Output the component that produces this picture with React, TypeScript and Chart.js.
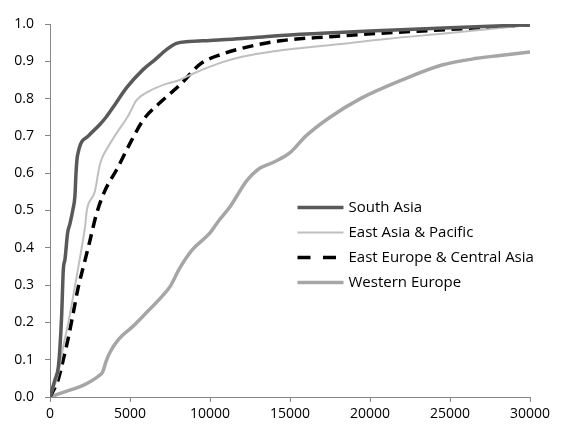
import React, { useEffect, useRef } from "react";
import { Chart, registerables } from "chart.js";

Chart.register(...registerables);

const xTicks = [0, 5000, 10000, 15000, 20000, 25000, 30000];
const yTicks = [0, 0.1, 0.2, 0.3, 0.4, 0.5, 0.6, 0.7, 0.8, 0.9, 1.0];

const southAsiaX = [0, 300, 520, 625, 730, 830, 940, 1100, 1250, 1420, 1560, 1625, 1710, 2400, 3100, 3500, 4000, 4800, 5800, 6550, 7300, 7900, 8700, 10000, 12000, 14000, 17000, 20000, 25000, 30000];
const southAsiaY = [0, 0.045, 0.08, 0.135, 0.22, 0.34, 0.37, 0.44, 0.465, 0.5, 0.54, 0.6, 0.645, 0.7, 0.73, 0.75, 0.78, 0.83, 0.877, 0.904, 0.932, 0.948, 0.953, 0.956, 0.961, 0.968, 0.975, 0.981, 0.99, 0.998];

const eastAsiaX = [0, 500, 800, 1150, 1550, 1900, 2200, 2300, 2800, 3100, 3300, 3550, 4050, 4900, 5400, 6200, 7300, 8100, 9000, 10600, 12000, 14000, 18500, 21000, 24800, 30000];
const eastAsiaY = [0, 0.06, 0.13, 0.2, 0.295, 0.38, 0.46, 0.5, 0.55, 0.62, 0.645, 0.665, 0.7, 0.755, 0.795, 0.82, 0.84, 0.85, 0.868, 0.895, 0.912, 0.927, 0.948, 0.96, 0.975, 0.997];

const eastEuropeX = [0, 500, 830, 1150, 1450, 1770, 2150, 2500, 2900, 3400, 4170, 5100, 5830, 6900, 8200, 9400, 10800, 12300, 14400, 17500, 20600, 24800, 30000];
const eastEuropeY = [0, 0.045, 0.1, 0.16, 0.225, 0.295, 0.36, 0.42, 0.49, 0.55, 0.61, 0.688, 0.743, 0.79, 0.84, 0.893, 0.92, 0.938, 0.955, 0.966, 0.975, 0.985, 0.998];

const westernEuropeX = [0, 1000, 2000, 2500, 3000, 3300, 3500, 3750, 4300, 5200, 6000, 7000, 7500, 8100, 8900, 10000, 10500, 11250, 12300, 13000, 14000, 15000, 16000, 17500, 19400, 22000, 24500, 26700, 28000, 30000];
const westernEuropeY = [0, 0.015, 0.03, 0.041, 0.055, 0.068, 0.095, 0.12, 0.155, 0.19, 0.225, 0.27, 0.296, 0.345, 0.395, 0.44, 0.47, 0.51, 0.58, 0.61, 0.63, 0.655, 0.7, 0.75, 0.8, 0.85, 0.89, 0.908, 0.915, 0.925];

const seriesNames = ["South Asia", "East Asia & Pacific", "East Europe & Central Asia", "Western Europe"];

const pts = (xs: number[], ys: number[]) => xs.map((x, i) => ({ x, y: ys[i] }));

const FONT = "'Open Sans', 'Noto Sans', sans-serif";

const legendPlugin = {
  id: "insideLegend",
  afterDraw(chart: any) {
    const ctx = chart.ctx;
    const area = chart.chartArea;
    const x0 = area.left + 247.5;
    const y0 = area.top + 183.5;
    const rowH = 25;
    ctx.save();
    chart.data.datasets.forEach((ds: any, i: number) => {
      const y = y0 + i * rowH;
      ctx.beginPath();
      ctx.strokeStyle = ds.borderColor;
      ctx.lineWidth = ds.borderWidth;
      ctx.setLineDash(ds.borderDash ? [13, 12.5] : []);
      ctx.lineCap = "butt";
      ctx.moveTo(x0, y);
      ctx.lineTo(x0 + 46, y);
      ctx.stroke();
      ctx.setLineDash([]);
      ctx.fillStyle = "#000";
      ctx.font = "15px " + FONT;
      ctx.textBaseline = "middle";
      ctx.textAlign = "left";
      ctx.fillText(ds.label, x0 + 51, y);
    });
    ctx.restore();
  },
};

export default function App() {
  const ref = useRef<HTMLCanvasElement>(null);
  useEffect(() => {
    document.body.style.margin = "0";
    const chart = new Chart(ref.current!, {
      type: "line",
      data: {
        datasets: [
          { label: seriesNames[0], data: pts(southAsiaX, southAsiaY), borderColor: "#595959", borderWidth: 3.5 },
          { label: seriesNames[1], data: pts(eastAsiaX, eastAsiaY), borderColor: "#bfbfbf", borderWidth: 2 },
          { label: seriesNames[2], data: pts(eastEuropeX, eastEuropeY), borderColor: "#000000", borderWidth: 3.5, borderDash: [11, 6.5] },
          { label: seriesNames[3], data: pts(westernEuropeX, westernEuropeY), borderColor: "#a6a6a6", borderWidth: 3.5 },
        ] as any,
      },
      options: {
        animation: false,
        responsive: false,
        devicePixelRatio: 1,
        parsing: false as any,
        layout: { padding: { left: 0, right: 41, top: 24, bottom: 0 } },
        elements: {
          point: { radius: 0 },
          line: { cubicInterpolationMode: "monotone", borderCapStyle: "butt", borderJoinStyle: "round" },
        },
        plugins: { legend: { display: false }, tooltip: { enabled: false } },
        scales: {
          x: {
            type: "linear",
            min: 0,
            max: 30000,
            afterBuildTicks: (s: any) => { s.ticks = xTicks.map((v) => ({ value: v })); },
            afterFit: (s: any) => { s.height = 28; },
            grid: { drawOnChartArea: false, drawTicks: true, tickLength: 5, color: "#868686" },
            border: { color: "#868686", width: 1 },
            ticks: { color: "#000", font: { family: FONT, size: 14 }, padding: 4, maxRotation: 0, callback: (v: any) => String(v) },
          },
          y: {
            type: "linear",
            min: 0,
            max: 1,
            afterBuildTicks: (s: any) => { s.ticks = yTicks.map((v) => ({ value: v })); },
            afterFit: (s: any) => { s.width = 50; },
            grid: { drawOnChartArea: false, drawTicks: true, tickLength: 5, color: "#868686" },
            border: { color: "#868686", width: 1 },
            ticks: { color: "#000", font: { family: FONT, size: 14 }, padding: 11, callback: (v: any) => Number(v).toFixed(1) },
          },
        },
      } as any,
      plugins: [legendPlugin],
    });
    return () => chart.destroy();
  }, []);
  return <canvas ref={ref} width={571} height={425} style={{ display: "block" }} />;
}
